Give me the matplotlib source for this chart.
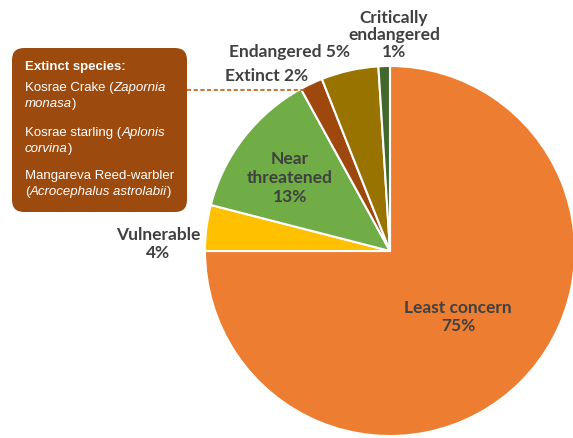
import matplotlib
matplotlib.use("Agg")
import matplotlib.pyplot as plt
from matplotlib.patches import FancyBboxPatch

W, H = 573, 439

categories: list[str] = ["Least concern", "Vulnerable", "Near threatened",
                         "Extinct", "Endangered", "Critically endangered"]
shares: list[int] = [75, 4, 13, 2, 5, 1]
colors: list[str] = ["#ED7D31", "#FFC000", "#70AD47", "#9E480E", "#997300", "#43682B"]

extinct_species: list[tuple[str, str, str]] = [
    ("Kosrae Crake (", "Zapornia", "monasa"),
    ("Kosrae starling (", "Aplonis", "corvina"),
    ("Mangareva Reed-warbler", "", "Acrocephalus astrolabii"),
]

LABEL_FONT = ["Lato", "DejaVu Sans"]
BOX_FONT = ["Liberation Sans", "DejaVu Sans"]
LABEL_COLOR = "#404040"


def py(y):
    # pixel rows are counted from the top of the image
    return H - y


fig = plt.figure(figsize=(W / 100, H / 100), dpi=100)
ax = fig.add_axes([0, 0, 1, 1])

ax.pie(shares, colors=colors, startangle=90, counterclock=False,
       center=(390, py(252)), radius=185,
       wedgeprops=dict(edgecolor="white", linewidth=1.5))
ax.set_xlim(0, W)
ax.set_ylim(0, H)
ax.set_aspect("equal")
ax.axis("off")

label_kw = dict(fontsize=12.5, fontweight="bold", color=LABEL_COLOR,
                family=LABEL_FONT, ha="center", va="center", linespacing=1.2)
ax.text(458, py(317), f"{categories[0]}\n{shares[0]}%", **label_kw)
ax.text(158, py(244), f"{categories[1]}\n{shares[1]}%", **label_kw)
ax.text(290, py(178), f"Near\nthreatened\n{shares[2]}%", **label_kw)
ax.text(267, py(76), f"{categories[3]} {shares[3]}%", **label_kw)
ax.text(289, py(52), f"{categories[4]} {shares[4]}%", **label_kw)
ax.text(394, py(35), f"Critically\nendangered\n{shares[5]}%",
        **{**label_kw, "linespacing": 1.05})

# callout box listing the extinct species
box = FancyBboxPatch((12 + 12, py(213) + 12), 175 - 24, 164 - 24,
                     boxstyle="round,pad=12", facecolor="#9C4A0E",
                     edgecolor="none", zorder=3)
ax.add_patch(box)
ax.plot([187, 305], [py(91), py(91)], color="#C55A11", linewidth=1.2,
        linestyle=(0, (2.5, 1.5)), zorder=2)

box_kw = dict(fontsize=9.5, color="white", family=BOX_FONT, va="center", zorder=4)
ax.text(25, py(67), "Extinct species:", fontweight="bold", **box_kw)

fig.canvas.draw()
renderer = fig.canvas.get_renderer()
inv = ax.transData.inverted()


def write_line(x, y, parts):
    # parts: list of (text, italic) drawn one after another
    for txt, italic in parts:
        if not txt:
            continue
        t = ax.text(x, y, txt, style="italic" if italic else "normal", **box_kw)
        bb = t.get_window_extent(renderer)
        x = inv.transform((bb.x1, bb.y0))[0]


rows = [
    (py(88), [("Kosrae Crake (", False), ("Zapornia", True)]),
    (py(104), [("monasa", True), (")", False)]),
    (py(133), [("Kosrae starling (", False), ("Aplonis", True)]),
    (py(149), [("corvina", True), (")", False)]),
    (py(176), [("Mangareva Reed-warbler", False)]),
    (py(192), [("(", False), ("Acrocephalus astrolabii", True), (")", False)]),
]
for y, parts in rows:
    write_line(25, y, parts)

fig.savefig("out.png", dpi=100)
